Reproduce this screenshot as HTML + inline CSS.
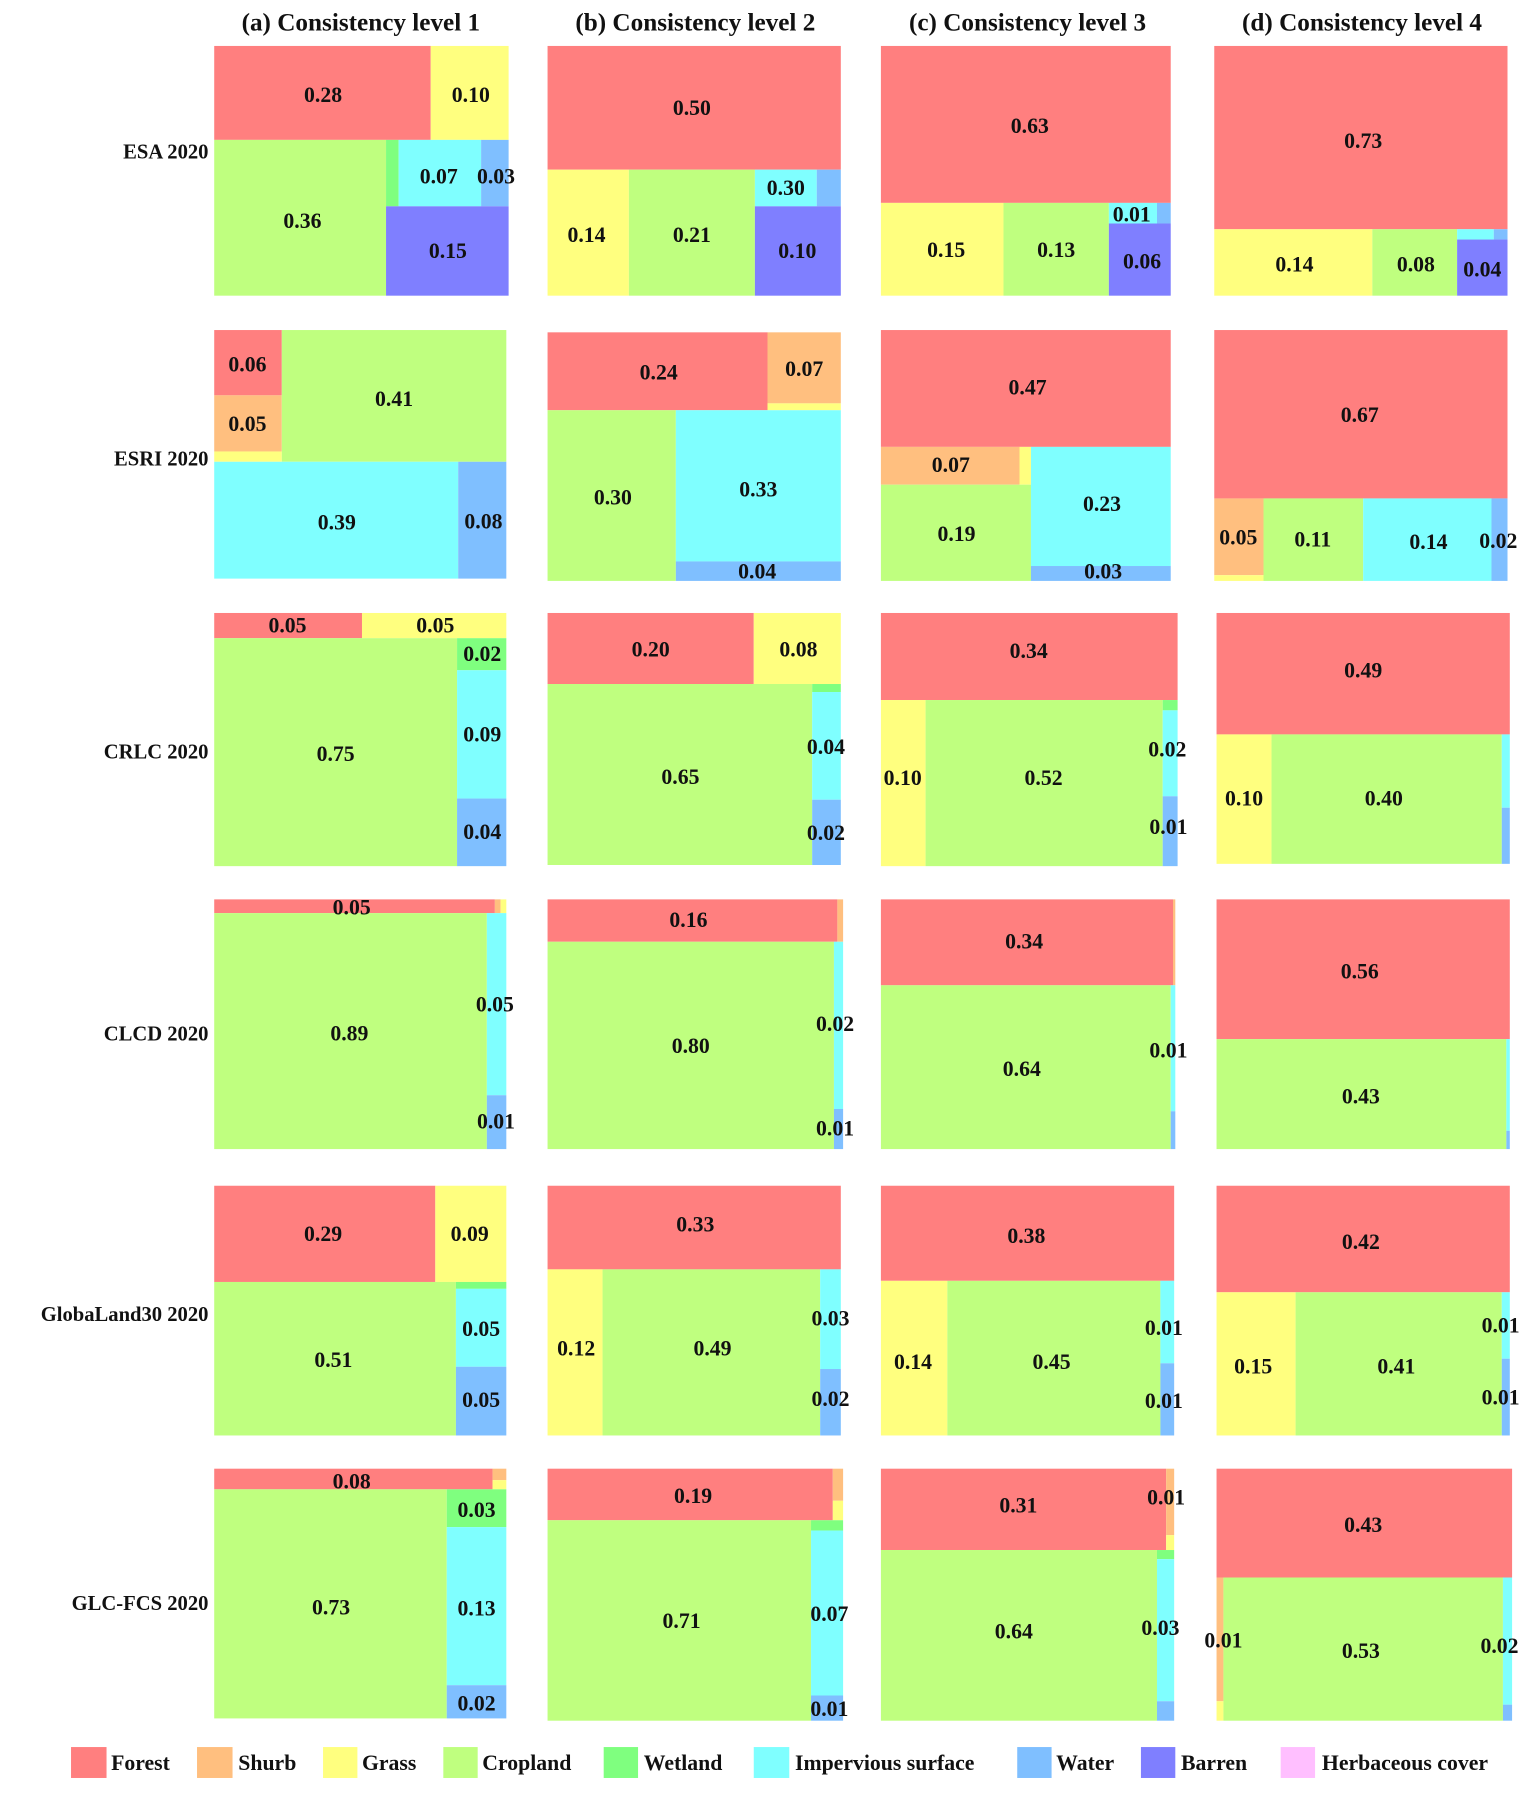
<!DOCTYPE html>
<html><head><meta charset="utf-8"><style>
html,body{margin:0;padding:0;background:#fff;}
svg{display:block;}
text{font-family:"Liberation Serif",serif;font-weight:bold;fill:#111;}
.l{font-size:19px;text-anchor:middle;dominant-baseline:central;}
.r{font-size:18px;text-anchor:end;dominant-baseline:central;}
.t{font-size:22px;text-anchor:middle;dominant-baseline:central;}
.g{font-size:19px;dominant-baseline:central;}
</style></head><body>
<svg width="1535" height="1793" viewBox="0 0 1340 1565" xmlns="http://www.w3.org/2000/svg">
<defs></defs>
<text class="t" x="315" y="20">(a) Consistency level 1</text>
<text class="t" x="607" y="20">(b) Consistency level 2</text>
<text class="t" x="897" y="20">(c) Consistency level 3</text>
<text class="t" x="1189" y="20">(d) Consistency level 4</text>
<text class="r" x="182" y="133">ESA 2020</text>
<text class="r" x="182" y="401">ESRI 2020</text>
<text class="r" x="182" y="657">CRLC 2020</text>
<text class="r" x="182" y="903">CLCD 2020</text>
<text class="r" x="182" y="1148">GlobaLand30 2020</text>
<text class="r" x="182" y="1400">GLC-FCS 2020</text>

<!-- Row 1 -->
<rect x="187" y="40" width="189" height="82" fill="#FF7F7F"/>
<rect x="376" y="40" width="68" height="82" fill="#FFFF7F"/>
<rect x="187" y="122" width="150" height="136" fill="#BFFF7F"/>
<rect x="337" y="122" width="11" height="58" fill="#7FFF7F"/>
<rect x="348" y="122" width="72" height="58" fill="#7FFFFF"/>
<rect x="420" y="122" width="24" height="58" fill="#7FBFFF"/>
<rect x="337" y="180" width="107" height="78" fill="#7F7FFF"/>
<text class="l" x="282" y="83">0.28</text><text class="l" x="411" y="83">0.10</text>
<text class="l" x="264" y="193">0.36</text><text class="l" x="383" y="154">0.07</text>
<text class="l" x="433" y="154">0.03</text><text class="l" x="391" y="219">0.15</text>

<rect x="478" y="40" width="256" height="108" fill="#FF7F7F"/>
<rect x="478" y="148" width="71" height="110" fill="#FFFF7F"/>
<rect x="549" y="148" width="110" height="110" fill="#BFFF7F"/>
<rect x="659" y="148" width="54" height="32" fill="#7FFFFF"/>
<rect x="713" y="148" width="21" height="32" fill="#7FBFFF"/>
<rect x="659" y="180" width="75" height="78" fill="#7F7FFF"/>
<text class="l" x="604" y="94">0.50</text><text class="l" x="512" y="205">0.14</text>
<text class="l" x="604" y="205">0.21</text><text class="l" x="686" y="164">0.30</text>
<text class="l" x="696" y="219">0.10</text>

<rect x="769" y="40" width="253" height="137" fill="#FF7F7F"/>
<rect x="769" y="177" width="107" height="81" fill="#FFFF7F"/>
<rect x="876" y="177" width="92" height="81" fill="#BFFF7F"/>
<rect x="968" y="177" width="42" height="18" fill="#7FFFFF"/>
<rect x="1010" y="177" width="12" height="18" fill="#7FBFFF"/>
<rect x="968" y="195" width="54" height="63" fill="#7F7FFF"/>
<text class="l" x="899" y="110">0.63</text><text class="l" x="826" y="218">0.15</text>
<text class="l" x="922" y="218">0.13</text><text class="l" x="988" y="187">0.01</text>
<text class="l" x="997" y="228">0.06</text>

<rect x="1060" y="40" width="256" height="160" fill="#FF7F7F"/>
<rect x="1060" y="200" width="138" height="58" fill="#FFFF7F"/>
<rect x="1198" y="200" width="74" height="58" fill="#BFFF7F"/>
<rect x="1272" y="200" width="32" height="9" fill="#7FFFFF"/>
<rect x="1304" y="200" width="12" height="9" fill="#7FBFFF"/>
<rect x="1272" y="209" width="44" height="49" fill="#7F7FFF"/>
<text class="l" x="1190" y="123">0.73</text><text class="l" x="1130" y="231">0.14</text>
<text class="l" x="1236" y="231">0.08</text><text class="l" x="1294" y="235">0.04</text>

<!-- Row 2 -->
<rect x="187" y="288" width="59" height="57" fill="#FF7F7F"/>
<rect x="187" y="345" width="59" height="49" fill="#FFBF7F"/>
<rect x="187" y="394" width="59" height="9" fill="#FFFF7F"/>
<rect x="246" y="288" width="196" height="115" fill="#BFFF7F"/>
<rect x="187" y="403" width="213" height="102" fill="#7FFFFF"/>
<rect x="400" y="403" width="42" height="102" fill="#7FBFFF"/>
<text class="l" x="216" y="318">0.06</text><text class="l" x="216" y="370">0.05</text>
<text class="l" x="344" y="348">0.41</text><text class="l" x="294" y="456">0.39</text>
<text class="l" x="422" y="455">0.08</text>

<rect x="478" y="290" width="192" height="68" fill="#FF7F7F"/>
<rect x="670" y="290" width="64" height="62" fill="#FFBF7F"/>
<rect x="670" y="352" width="64" height="6" fill="#FFFF7F"/>
<rect x="478" y="358" width="112" height="149" fill="#BFFF7F"/>
<rect x="590" y="358" width="144" height="132" fill="#7FFFFF"/>
<rect x="590" y="490" width="144" height="17" fill="#7FBFFF"/>
<text class="l" x="575" y="325">0.24</text><text class="l" x="702" y="322">0.07</text>
<text class="l" x="535" y="434">0.30</text><text class="l" x="662" y="427">0.33</text>
<text class="l" x="661" y="499">0.04</text>

<rect x="769" y="288" width="253" height="102" fill="#FF7F7F"/>
<rect x="769" y="390" width="121" height="33" fill="#FFBF7F"/>
<rect x="890" y="390" width="10" height="33" fill="#FFFF7F"/>
<rect x="769" y="423" width="131" height="84" fill="#BFFF7F"/>
<rect x="900" y="390" width="122" height="104" fill="#7FFFFF"/>
<rect x="900" y="494" width="122" height="13" fill="#7FBFFF"/>
<text class="l" x="897" y="338">0.47</text><text class="l" x="830" y="406">0.07</text>
<text class="l" x="962" y="440">0.23</text><text class="l" x="835" y="466">0.19</text>
<text class="l" x="963" y="499">0.03</text>

<rect x="1060" y="288" width="256" height="147" fill="#FF7F7F"/>
<rect x="1060" y="435" width="43" height="67" fill="#FFBF7F"/>
<rect x="1060" y="502" width="43" height="5" fill="#FFFF7F"/>
<rect x="1103" y="435" width="87" height="72" fill="#BFFF7F"/>
<rect x="1190" y="435" width="112" height="72" fill="#7FFFFF"/>
<rect x="1302" y="435" width="14" height="72" fill="#7FBFFF"/>
<text class="l" x="1187" y="362">0.67</text><text class="l" x="1081" y="469">0.05</text>
<text class="l" x="1146" y="471">0.11</text><text class="l" x="1247" y="473">0.14</text>
<text class="l" x="1308" y="472">0.02</text>

<!-- Row 3 -->
<rect x="187" y="535" width="129" height="22" fill="#FF7F7F"/>
<rect x="316" y="535" width="126" height="22" fill="#FFFF7F"/>
<rect x="187" y="557" width="212" height="199" fill="#BFFF7F"/>
<rect x="399" y="557" width="43" height="28" fill="#7FFF7F"/>
<rect x="399" y="585" width="43" height="112" fill="#7FFFFF"/>
<rect x="399" y="697" width="43" height="59" fill="#7FBFFF"/>
<text class="l" x="251" y="546">0.05</text><text class="l" x="380" y="546">0.05</text>
<text class="l" x="421" y="571">0.02</text><text class="l" x="293" y="658">0.75</text>
<text class="l" x="421" y="641">0.09</text><text class="l" x="421" y="726">0.04</text>

<rect x="478" y="535" width="180" height="62" fill="#FF7F7F"/>
<rect x="658" y="535" width="76" height="62" fill="#FFFF7F"/>
<rect x="478" y="597" width="231" height="158" fill="#BFFF7F"/>
<rect x="709" y="597" width="25" height="7" fill="#7FFF7F"/>
<rect x="709" y="604" width="25" height="94" fill="#7FFFFF"/>
<rect x="709" y="698" width="25" height="57" fill="#7FBFFF"/>
<text class="l" x="568" y="567">0.20</text><text class="l" x="697" y="567">0.08</text>
<text class="l" x="594" y="678">0.65</text><text class="l" x="721" y="652">0.04</text>
<text class="l" x="721" y="727">0.02</text>

<rect x="769" y="535" width="259" height="76" fill="#FF7F7F"/>
<rect x="769" y="611" width="39" height="145" fill="#FFFF7F"/>
<rect x="808" y="611" width="207" height="145" fill="#BFFF7F"/>
<rect x="1015" y="611" width="13" height="9" fill="#7FFF7F"/>
<rect x="1015" y="620" width="13" height="75" fill="#7FFFFF"/>
<rect x="1015" y="695" width="13" height="61" fill="#7FBFFF"/>
<text class="l" x="898" y="568">0.34</text><text class="l" x="788" y="679">0.10</text>
<text class="l" x="911" y="679">0.52</text><text class="l" x="1019" y="654">0.02</text>
<text class="l" x="1020" y="722">0.01</text>

<rect x="1062" y="535" width="256" height="106" fill="#FF7F7F"/>
<rect x="1062" y="641" width="48" height="113" fill="#FFFF7F"/>
<rect x="1110" y="641" width="201" height="113" fill="#BFFF7F"/>
<rect x="1311" y="641" width="7" height="64" fill="#7FFFFF"/>
<rect x="1311" y="705" width="7" height="49" fill="#7FBFFF"/>
<text class="l" x="1190" y="585">0.49</text><text class="l" x="1086" y="697">0.10</text>
<text class="l" x="1208" y="697">0.40</text>

<!-- Row 4 -->
<rect x="187" y="785" width="245" height="12" fill="#FF7F7F"/>
<rect x="432" y="785" width="5" height="12" fill="#FFBF7F"/>
<rect x="437" y="785" width="5" height="12" fill="#FFFF7F"/>
<rect x="187" y="797" width="238" height="206" fill="#BFFF7F"/>
<rect x="425" y="797" width="17" height="159" fill="#7FFFFF"/>
<rect x="425" y="956" width="17" height="47" fill="#7FBFFF"/>
<text class="l" x="307" y="792">0.05</text><text class="l" x="305" y="902">0.89</text>
<text class="l" x="432" y="877">0.05</text><text class="l" x="433" y="979">0.01</text>

<rect x="478" y="785" width="253" height="37" fill="#FF7F7F"/>
<rect x="731" y="785" width="5" height="37" fill="#FFBF7F"/>
<rect x="478" y="822" width="250" height="181" fill="#BFFF7F"/>
<rect x="728" y="822" width="8" height="146" fill="#7FFFFF"/>
<rect x="728" y="968" width="8" height="35" fill="#7FBFFF"/>
<text class="l" x="601" y="803">0.16</text><text class="l" x="603" y="913">0.80</text>
<text class="l" x="729" y="894">0.02</text><text class="l" x="729" y="985">0.01</text>

<rect x="769" y="785" width="255" height="75" fill="#FF7F7F"/>
<rect x="1024" y="785" width="2" height="75" fill="#FFBF7F"/>
<rect x="769" y="860" width="253" height="143" fill="#BFFF7F"/>
<rect x="1022" y="860" width="4" height="110" fill="#7FFFFF"/>
<rect x="1022" y="970" width="4" height="33" fill="#7FBFFF"/>
<text class="l" x="894" y="822">0.34</text><text class="l" x="892" y="933">0.64</text>
<text class="l" x="1020" y="917">0.01</text>

<rect x="1062" y="785" width="256" height="122" fill="#FF7F7F"/>
<rect x="1062" y="907" width="253" height="96" fill="#BFFF7F"/>
<rect x="1315" y="907" width="3" height="80" fill="#7FFFFF"/>
<rect x="1315" y="987" width="3" height="16" fill="#7FBFFF"/>
<text class="l" x="1187" y="848">0.56</text><text class="l" x="1188" y="957">0.43</text>

<!-- Row 5 -->
<rect x="187" y="1035" width="193" height="84" fill="#FF7F7F"/>
<rect x="380" y="1035" width="62" height="84" fill="#FFFF7F"/>
<rect x="187" y="1119" width="211" height="134" fill="#BFFF7F"/>
<rect x="398" y="1119" width="44" height="6" fill="#7FFF7F"/>
<rect x="398" y="1125" width="44" height="68" fill="#7FFFFF"/>
<rect x="398" y="1193" width="44" height="60" fill="#7FBFFF"/>
<text class="l" x="282" y="1077">0.29</text><text class="l" x="410" y="1077">0.09</text>
<text class="l" x="291" y="1187">0.51</text><text class="l" x="420" y="1160">0.05</text>
<text class="l" x="420" y="1222">0.05</text>

<rect x="478" y="1035" width="256" height="73" fill="#FF7F7F"/>
<rect x="478" y="1108" width="48" height="145" fill="#FFFF7F"/>
<rect x="526" y="1108" width="190" height="145" fill="#BFFF7F"/>
<rect x="716" y="1108" width="18" height="87" fill="#7FFFFF"/>
<rect x="716" y="1195" width="18" height="58" fill="#7FBFFF"/>
<text class="l" x="607" y="1069">0.33</text><text class="l" x="503" y="1177">0.12</text>
<text class="l" x="622" y="1177">0.49</text><text class="l" x="725" y="1151">0.03</text>
<text class="l" x="725" y="1221">0.02</text>

<rect x="769" y="1035" width="256" height="83" fill="#FF7F7F"/>
<rect x="769" y="1118" width="58" height="135" fill="#FFFF7F"/>
<rect x="827" y="1118" width="186" height="135" fill="#BFFF7F"/>
<rect x="1013" y="1118" width="12" height="72" fill="#7FFFFF"/>
<rect x="1013" y="1190" width="12" height="63" fill="#7FBFFF"/>
<text class="l" x="896" y="1079">0.38</text><text class="l" x="797" y="1189">0.14</text>
<text class="l" x="918" y="1189">0.45</text><text class="l" x="1016" y="1159">0.01</text>
<text class="l" x="1016" y="1223">0.01</text>

<rect x="1062" y="1035" width="256" height="93" fill="#FF7F7F"/>
<rect x="1062" y="1128" width="69" height="125" fill="#FFFF7F"/>
<rect x="1131" y="1128" width="180" height="125" fill="#BFFF7F"/>
<rect x="1311" y="1128" width="7" height="58" fill="#7FFFFF"/>
<rect x="1311" y="1186" width="7" height="67" fill="#7FBFFF"/>
<text class="l" x="1188" y="1084">0.42</text><text class="l" x="1094" y="1193">0.15</text>
<text class="l" x="1219" y="1193">0.41</text><text class="l" x="1310" y="1157">0.01</text>
<text class="l" x="1310" y="1220">0.01</text>

<!-- Row 6 -->
<rect x="187" y="1282" width="243" height="18" fill="#FF7F7F"/>
<rect x="430" y="1282" width="12" height="10" fill="#FFBF7F"/>
<rect x="430" y="1292" width="12" height="8" fill="#FFFF7F"/>
<rect x="187" y="1300" width="203" height="200" fill="#BFFF7F"/>
<rect x="390" y="1300" width="52" height="33" fill="#7FFF7F"/>
<rect x="390" y="1333" width="52" height="138" fill="#7FFFFF"/>
<rect x="390" y="1471" width="52" height="29" fill="#7FBFFF"/>
<text class="l" x="307" y="1293">0.08</text><text class="l" x="416" y="1318">0.03</text>
<text class="l" x="289" y="1403">0.73</text><text class="l" x="416" y="1404">0.13</text>
<text class="l" x="416" y="1487">0.02</text>

<rect x="478" y="1282" width="249" height="45" fill="#FF7F7F"/>
<rect x="727" y="1282" width="9" height="28" fill="#FFBF7F"/>
<rect x="727" y="1310" width="9" height="17" fill="#FFFF7F"/>
<rect x="478" y="1327" width="230" height="175" fill="#BFFF7F"/>
<rect x="708" y="1327" width="28" height="9" fill="#7FFF7F"/>
<rect x="708" y="1336" width="28" height="144" fill="#7FFFFF"/>
<rect x="708" y="1480" width="28" height="22" fill="#7FBFFF"/>
<text class="l" x="605" y="1306">0.19</text><text class="l" x="595" y="1415">0.71</text>
<text class="l" x="724" y="1409">0.07</text><text class="l" x="724" y="1492">0.01</text>

<rect x="769" y="1282" width="249" height="71" fill="#FF7F7F"/>
<rect x="1018" y="1282" width="7" height="58" fill="#FFBF7F"/>
<rect x="1018" y="1340" width="7" height="13" fill="#FFFF7F"/>
<rect x="769" y="1353" width="241" height="149" fill="#BFFF7F"/>
<rect x="1010" y="1353" width="15" height="8" fill="#7FFF7F"/>
<rect x="1010" y="1361" width="15" height="124" fill="#7FFFFF"/>
<rect x="1010" y="1485" width="15" height="17" fill="#7FBFFF"/>
<text class="l" x="889" y="1314">0.31</text><text class="l" x="1018" y="1307">0.01</text>
<text class="l" x="885" y="1424">0.64</text><text class="l" x="1013" y="1421">0.03</text>

<rect x="1062" y="1282" width="258" height="95" fill="#FF7F7F"/>
<rect x="1062" y="1377" width="6" height="108" fill="#FFBF7F"/>
<rect x="1062" y="1485" width="6" height="17" fill="#FFFF7F"/>
<rect x="1068" y="1377" width="244" height="125" fill="#BFFF7F"/>
<rect x="1312" y="1377" width="8" height="111" fill="#7FFFFF"/>
<rect x="1312" y="1488" width="8" height="14" fill="#7FBFFF"/>
<text class="l" x="1190" y="1331">0.43</text><text class="l" x="1068" y="1432">0.01</text>
<text class="l" x="1188" y="1441">0.53</text><text class="l" x="1309" y="1437">0.02</text>

<!-- Legend -->
<rect x="62" y="1525" width="31" height="27" fill="#FF7F7F"/><text class="g" x="97" y="1539">Forest</text>
<rect x="172" y="1525" width="31" height="27" fill="#FFBF7F"/><text class="g" x="208" y="1539">Shurb</text>
<rect x="282" y="1525" width="30" height="27" fill="#FFFF7F"/><text class="g" x="316" y="1539">Grass</text>
<rect x="387" y="1525" width="30" height="27" fill="#BFFF7F"/><text class="g" x="421" y="1539">Cropland</text>
<rect x="527" y="1525" width="30" height="27" fill="#7FFF7F"/><text class="g" x="562" y="1539">Wetland</text>
<rect x="658" y="1525" width="31" height="27" fill="#7FFFFF"/><text class="g" x="694" y="1539">Impervious surface</text>
<rect x="888" y="1525" width="30" height="27" fill="#7FBFFF"/><text class="g" x="922" y="1539">Water</text>
<rect x="996" y="1525" width="30" height="27" fill="#7F7FFF"/><text class="g" x="1031" y="1539">Barren</text>
<rect x="1118" y="1525" width="30" height="27" fill="#FFBFFF"/><text class="g" x="1154" y="1539">Herbaceous cover</text>
</svg>
</body></html>
